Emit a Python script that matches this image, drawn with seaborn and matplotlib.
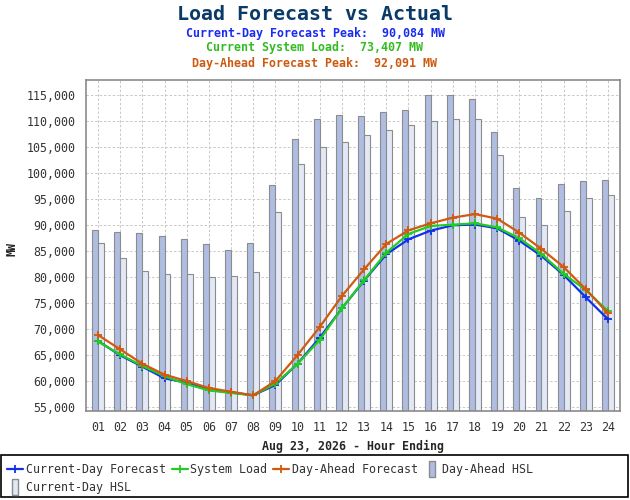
import matplotlib
matplotlib.use("Agg")
import matplotlib.pyplot as plt
from matplotlib.lines import Line2D
from matplotlib.patches import Rectangle
from matplotlib.ticker import FuncFormatter
import seaborn as sns
import pandas as pd

hours = ["%02d" % h for h in range(1, 25)]

day_ahead_hsl = [89000, 88650, 88400, 87950, 87370, 86280, 85190, 86480,
                 97630, 106540, 110320, 111090, 111030, 111670, 112180, 115060,
                 115060, 114300, 107950, 97050, 95190, 97950, 98460, 98650]
current_day_hsl = [86480, 83650, 81200, 80500, 80500, 80000, 80130, 81030,
                   92560, 101800, 105060, 105900, 107240, 108270, 109300, 109940,
                   110320, 110320, 103400, 91540, 89940, 92630, 95190, 95700]

current_day_fc = [67700, 64940, 62760, 60510, 59680, 58270, 57820, 57240,
                  59230, 63330, 68330, 73970, 79300, 84360, 87240, 88910,
                  89940, 90084, 89360, 86990, 84040, 80390, 76090, 71860]
system_load = [67600, 65100, 62900, 60900, 59400, 58200, 57700, 57250,
               59500, 63300, 67900, 74000, 79400, 84680, 88270, 89810,
               90060, 90320, 89550, 87440, 84420, 80580, 77500, 73407]
day_ahead_fc = [68850, 66090, 63330, 61220, 60000, 58650, 57950, 57240,
                60000, 65000, 70380, 76350, 81470, 86350, 88970, 90320,
                91410, 92091, 91220, 88530, 85380, 81920, 77630, 73010]

bar_names = ["Day-Ahead HSL", "Current-Day HSL"]
line_names = ["Current-Day Forecast", "System Load", "Day-Ahead Forecast"]
bar_colors = ["#afbde2", "#e2e8f6"]
line_colors = ["#1030ee", "#22cc22", "#d05a10"]

bars = pd.DataFrame({
    "hour": hours * 2,
    "MW": day_ahead_hsl + current_day_hsl,
    "series": [bar_names[0]] * 24 + [bar_names[1]] * 24,
})
lines = pd.DataFrame({
    "hour": hours * 3,
    "MW": current_day_fc + system_load + day_ahead_fc,
    "series": sum([[n] * 24 for n in line_names], []),
})

sns.set_style("white")
plt.rcParams["font.family"] = ["DejaVu Sans Mono", "DejaVu Sans"]

fig = plt.figure(figsize=(6.3, 5), dpi=100)
ax = fig.add_axes([86 / 630, 89 / 500, 534 / 630, 331 / 500])

sns.barplot(data=bars, x="hour", y="MW", hue="series", order=hours,
            hue_order=bar_names, palette=bar_colors, saturation=1, width=0.54,
            edgecolor="#8c8c8c", linewidth=0.8, legend=False, ax=ax)
sns.pointplot(data=lines, x="hour", y="MW", hue="series", order=hours,
              hue_order=line_names, palette=line_colors, markers="+",
              linestyles="-", dodge=False, errorbar=None, legend=False,
              markersize=6, markeredgewidth=1.3, linewidth=1.6, ax=ax)

ax.set_ylim(54230, 117880)
ax.set_xlim(-0.54, 23.54)
ax.set_yticks(range(55000, 115001, 5000))
ax.yaxis.set_major_formatter(FuncFormatter(lambda v, p: "{:,.0f}".format(v)))
ax.set_axisbelow(True)
ax.grid(True, color="#c8c8c8", linestyle=(0, (2.5, 2)), linewidth=0.7)
for s in ax.spines.values():
    s.set_color("#8a8a8a")
    s.set_linewidth(1.2)
ax.tick_params(axis="both", colors="#8a8a8a", labelcolor="#333333",
               labelsize=8.4, length=4, width=1, direction="out")
ax.set_xlabel("Aug 23, 2026 - Hour Ending", fontsize=8.4, fontweight="bold",
              labelpad=4)
ax.set_ylabel("MW", fontsize=8.4, fontweight="bold")
ax.yaxis.set_label_coords(-0.127, 0.49)

fig.text(0.5, 1 - 14 / 500, "Load Forecast vs Actual", ha="center", va="center",
         fontsize=14.4, fontweight="bold", color="#0a3a66")
fig.text(0.5, 1 - 33 / 500, "Current-Day Forecast Peak:  90,084 MW", ha="center",
         va="center", fontsize=8.4, fontweight="bold", color="#1a2cf0")
fig.text(0.5, 1 - 48 / 500, "Current System Load:  73,407 MW", ha="center",
         va="center", fontsize=8.4, fontweight="bold", color="#33bb22")
fig.text(0.5, 1 - 64 / 500, "Day-Ahead Forecast Peak:  92,091 MW", ha="center",
         va="center", fontsize=8.4, fontweight="bold", color="#cc5a10")

# legend frame across the whole width
fig.patches.append(Rectangle((1 / 630, 3 / 500), 627 / 630, 42 / 500,
                             transform=fig.transFigure, fill=False,
                             edgecolor="black", linewidth=1.2))

tall_box = [(-0.35, -1), (0.35, -1), (0.35, 1), (-0.35, 1), (-0.35, -1)]
line_h = [Line2D([], [], color=c, marker="+", markersize=6, markeredgewidth=1.3,
                 linewidth=1.6) for c in line_colors]
bar_h = [Line2D([], [], linestyle="none", marker=tall_box, markersize=12,
                markerfacecolor=c, markeredgecolor="#8c8c8c",
                markeredgewidth=1.0) for c in bar_colors]
handles = [line_h[0], bar_h[1], line_h[1], line_h[2], bar_h[0]]
labels = [line_names[0], bar_names[1], line_names[1], line_names[2], bar_names[0]]
fig.legend(handles, labels, ncol=4, loc="upper left",
           bbox_to_anchor=(0.0, 44 / 500), frameon=False, fontsize=8.4,
           handlelength=1.4, handletextpad=0.2, columnspacing=0.5,
           labelspacing=0.45, borderaxespad=0.2, labelcolor="#333333")

fig.savefig("out.png", dpi=100)
